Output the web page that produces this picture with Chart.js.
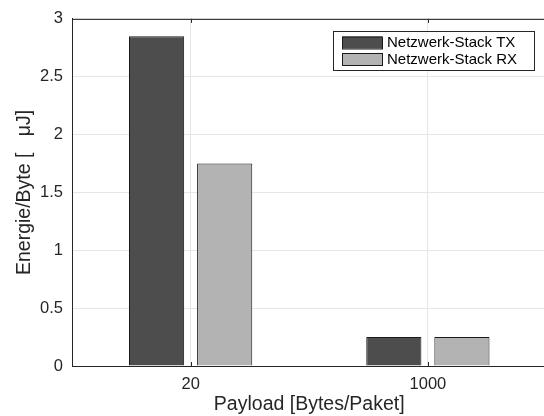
<!DOCTYPE html>
<html>
<head>
<meta charset="utf-8">
<script src="https://cdn.jsdelivr.net/npm/chart.js@4/dist/chart.umd.min.js"></script>
<style>
    html, body { margin: 0; padding: 0; background: #fff; overflow: hidden; }
    #wrap { width: 550px; height: 416px; }
</style>
</head>
<body>
<div id="wrap"><canvas id="energyChart"></canvas></div>
<script>
// Chart data
const categories = ['20', '1000'];
const txValues = [2.85, 0.25];
const rxValues = [1.75, 0.25];
const seriesNames = ['Netzwerk-Stack TX', 'Netzwerk-Stack RX'];
const yTicks = [0, 0.5, 1, 1.5, 2, 2.5, 3];

const FONT = '"Liberation Sans", Arial, Helvetica, sans-serif';
const TEXT = '#262626';

// MATLAB style box: top line + inward x ticks
const boxPlugin = {
    id: 'matlabBox',
    afterDatasetsDraw(chart) {
        const { ctx, chartArea: a } = chart;
        const xs = chart.scales.x;
        ctx.save();
        ctx.strokeStyle = TEXT;
        ctx.lineWidth = 1;
        ctx.beginPath();
        ctx.moveTo(a.left, a.top + 0.5);
        ctx.lineTo(a.right, a.top + 0.5);
        ctx.moveTo(a.right - 0.5, a.top);
        ctx.lineTo(a.right - 0.5, a.bottom);
        xs.ticks.forEach((t, i) => {
            const px = Math.round(xs.getPixelForTick(i)) + 0.5;
            ctx.moveTo(px, a.bottom);
            ctx.lineTo(px, a.bottom - 4);
            ctx.moveTo(px, a.top);
            ctx.lineTo(px, a.top + 4);
        });
        ctx.stroke();
        ctx.restore();
    }
};

// legend drawn as a framed box inside the plot
const boxLegend = {
    id: 'boxLegend',
    afterDraw(chart, args, opts) {
        const { ctx } = chart;
        ctx.save();
        ctx.fillStyle = '#fff';
        ctx.fillRect(opts.left, opts.top, opts.width, opts.height);
        ctx.strokeStyle = TEXT;
        ctx.lineWidth = 1;
        ctx.strokeRect(opts.left + 0.5, opts.top + 0.5, opts.width, opts.height);
        ctx.font = '15px ' + FONT;
        ctx.textBaseline = 'middle';
        chart.data.datasets.forEach((ds, i) => {
            const cy = opts.top + 11.5 + i * 16.5;
            ctx.fillStyle = ds.backgroundColor;
            ctx.fillRect(opts.left + 9, cy - 6, 40, 12);
            ctx.strokeStyle = ds.borderColor;
            ctx.strokeRect(opts.left + 9.5, cy - 5.5, 40, 12);
            ctx.fillStyle = '#000';
            ctx.fillText(ds.label, opts.left + 54, cy + 0.5);
        });
        ctx.restore();
    }
};

new Chart(document.getElementById('energyChart'), {
    type: 'bar',
    data: {
        labels: categories,
        datasets: [
            {
                label: seriesNames[0],
                data: txValues,
                backgroundColor: '#4d4d4d',
                borderColor: '#1a1a1a',
                borderWidth: 1
            },
            {
                label: seriesNames[1],
                data: rxValues,
                backgroundColor: '#b3b3b3',
                borderColor: '#1a1a1a',
                borderWidth: 1
            }
        ]
    },
    options: {
        responsive: true,
        maintainAspectRatio: false,
        animation: false,
        categoryPercentage: 0.574,
        barPercentage: 0.81,
        layout: { padding: { top: 17, right: 3.5, bottom: 0, left: 0 } },
        plugins: {
            legend: { display: false },
            tooltip: { enabled: false },
            boxLegend: { left: 333, top: 31, width: 201, height: 39 }
        },
        scales: {
            x: {
                grid: { offset: false, color: '#e6e6e6', drawTicks: false },
                border: { color: TEXT, width: 1 },
                ticks: { color: TEXT, padding: 9, font: { family: FONT, size: 16.5 } },
                title: {
                    display: true,
                    text: 'Payload [Bytes/Paket]',
                    color: TEXT,
                    padding: { top: 0, bottom: 0 },
                    font: { family: FONT, size: 19.5 }
                },
                afterFit(scale) { scale.height = 50; }
            },
            y: {
                min: 0,
                max: 3,
                afterBuildTicks(scale) { scale.ticks = yTicks.map(v => ({ value: v })); },
                grid: { color: '#e6e6e6', drawTicks: false },
                border: { color: TEXT, width: 1 },
                ticks: {
                    color: TEXT,
                    padding: 9,
                    font: { family: FONT, size: 16.5 },
                    callback: v => String(v)
                },
                title: {
                    display: true,
                    text: 'Energie/Byte [   μJ]',
                    color: TEXT,
                    padding: { top: 13, bottom: 0 },
                    font: { family: FONT, size: 19.5 }
                },
                afterFit(scale) { scale.width = 72; }
            }
        }
    },
    plugins: [boxPlugin, boxLegend]
});
</script>
</body>
</html>
